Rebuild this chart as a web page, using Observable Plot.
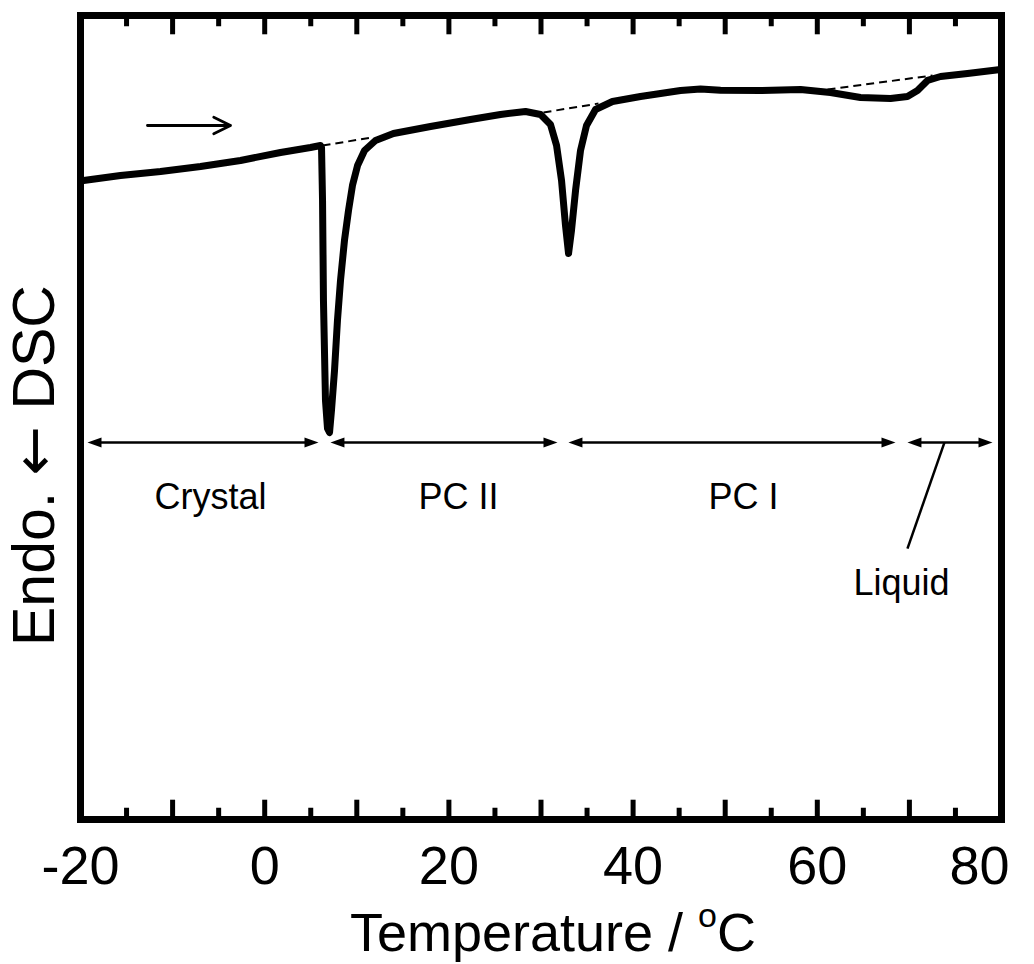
<!DOCTYPE html>
<html>
<head>
<meta charset="utf-8">
<script src="https://cdn.jsdelivr.net/npm/d3@7"></script>
<script src="https://cdn.jsdelivr.net/npm/@observablehq/plot@0.6"></script>
<style>
  html, body { margin: 0; padding: 0; background: #fff; }
</style>
</head>
<body>
<div id="chart"></div>
<script>
// ---- Data ----
// DSC trace: temperature (°C) and signal (arbitrary units, 0–100 over the frame)
const temperature = [
  -19.67, -15.66, -11.31, -6.97, -2.63, 1.72, 4.97, 6.06,
  6.17, 6.28, 6.38, 6.60, 6.82, 7.04, 7.25, 7.58, 7.90, 8.23, 8.66, 9.10, 9.53, 10.08, 10.84, 12.03,
  13.98, 18.00, 22.34, 25.60, 28.32,
  29.95, 31.03, 31.69, 32.23, 32.66, 32.99, 33.31, 33.75, 34.29, 34.94, 35.92, 37.76,
  40.80, 45.15, 47.32, 49.49, 53.83, 58.18, 61.43, 64.69, 67.95, 69.79, 70.88, 71.97, 73.38, 76.31, 79.89
];
const signal = [
  79.48, 80.10, 80.60, 81.22, 81.97, 82.96, 83.58, 83.83,
  83.58, 76.99, 64.55, 52.11, 48.63, 48.13, 50.87, 55.85, 62.06, 67.04, 72.01, 75.75, 78.86, 81.34, 83.21, 84.45,
  85.32, 86.19, 87.06, 87.69, 88.06,
  87.69, 86.44, 83.83, 79.48, 73.88, 70.40, 73.26, 78.23, 83.21, 86.32, 88.31, 89.30,
  89.93, 90.67, 90.85, 90.70, 90.67, 90.80, 90.42, 89.80, 89.68, 89.93, 90.67, 91.92, 92.41, 92.79, 93.28
];

// Dashed baselines across the transitions
const baseT1 = [6.28, 30.27, 61.11];
const baseV1 = [83.83, 87.94, 90.80];
const baseT2 = [11.71, 36.24, 72.51];
const baseV2 = [84.83, 89.05, 92.54];

// Phase ranges (double arrows) and labels
const phaseNames = ["Crystal", "PC II", "PC I", "Liquid"];
const phaseStart = [-19.24, 7.14, 32.98, 69.79];
const phaseEnd = [5.84, 31.79, 68.49, 79.02];
const phaseArrowLevel = 46.9;
const labelT = [-5.88, 21.04, 51.99, 69.14];
const labelV = [40.1, 40.1, 40.1, 29.3];

// Pointer from the "Liquid" label to its arrow
const pointerT = [73.81, 69.79];
const pointerV = [46.9, 33.7];

// Heating-direction arrow
const heatArrowT = [-12.73, -3.71];
const heatArrowV = 86.32;

// Axis ticks
const xTickLabels = [-20, 0, 20, 40, 60, 80];
const majorTicks = [-10, 0, 10, 20, 30, 40, 50, 60, 70];
const minorTicks = [-15, -5, 5, 15, 25, 35, 45, 55, 65, 75];

// ---- Build tables ----
const trace = temperature.map((t, i) => ({t, v: signal[i]}));
const baselines = baseT1.map((t, i) => ({x1: t, y1: baseV1[i], x2: baseT2[i], y2: baseV2[i]}));
const phases = phaseNames.map((name, i) => ({name, start: phaseStart[i], end: phaseEnd[i], lt: labelT[i], lv: labelV[i]}));

const headRight = {draw(ctx) { ctx.moveTo(0, 0); ctx.lineTo(-14, -5); ctx.lineTo(-14, 5); ctx.closePath(); }};
const headLeft = {draw(ctx) { ctx.moveTo(0, 0); ctx.lineTo(14, -5); ctx.lineTo(14, 5); ctx.closePath(); }};

const font = "'Liberation Sans', Arial, Helvetica, sans-serif";
const fmt = d => (d < 0 ? "-" + Math.abs(d) : String(d));

const svg = Plot.plot({
  width: 1034,
  height: 964,
  marginLeft: 80,
  marginRight: 33,
  marginTop: 15,
  marginBottom: 145,
  x: {domain: [-20, 80], axis: null},
  y: {domain: [0, 100], axis: null},
  style: {fontFamily: font, background: "white", color: "black"},
  marks: [
    // ticks inside the frame (bottom and top)
    Plot.ruleX(majorTicks, {x: d => d, y1: 0, y2: 2.4, stroke: "black", strokeWidth: 5}),
    Plot.ruleX(minorTicks, {x: d => d, y1: 0, y2: 1.4, stroke: "black", strokeWidth: 5}),
    Plot.ruleX(majorTicks, {x: d => d, y1: 100, y2: 97.6, stroke: "black", strokeWidth: 5}),
    Plot.ruleX(minorTicks, {x: d => d, y1: 100, y2: 98.6, stroke: "black", strokeWidth: 5}),
    // tick labels
    Plot.text(xTickLabels.filter(d => d !== 80), {x: d => d, text: fmt, frameAnchor: "bottom", lineAnchor: "top", dy: 26, fontSize: 54, fill: "black"}),
    Plot.text(xTickLabels.filter(d => d === 80), {x: d => d, text: fmt, frameAnchor: "bottom", lineAnchor: "top", dy: 26, dx: -22, fontSize: 54, fill: "black"}),
    // axis titles
    Plot.text(["Temperature / oC"], {text: d => d, frameAnchor: "bottom", textAnchor: "middle", lineAnchor: "top", dy: 93, dx: 12, fontSize: 54, fill: "black"}),
    Plot.text(["Endo. \u2190 DSC"], {text: d => d, frameAnchor: "left", textAnchor: "middle", lineAnchor: "top", rotate: -90, dx: -68, dy: 48, fontSize: 59, fill: "black"}),
    // dashed baselines
    Plot.link(baselines, {x1: "x1", y1: "y1", x2: "x2", y2: "y2", stroke: "black", strokeWidth: 2, strokeDasharray: "8,5"}),
    // phase arrows
    Plot.ruleY(phases, {y: () => phaseArrowLevel, x1: "start", x2: "end", insetLeft: 6, insetRight: 6, stroke: "black", strokeWidth: 2.5}),
    Plot.dot(phases, {x: "end", y: () => phaseArrowLevel, symbol: headRight, r: 5, fill: "black", stroke: null}),
    Plot.dot(phases, {x: "start", y: () => phaseArrowLevel, symbol: headLeft, r: 5, fill: "black", stroke: null}),
    Plot.link([0], {x1: () => pointerT[0], y1: () => pointerV[0], x2: () => pointerT[1], y2: () => pointerV[1], stroke: "black", strokeWidth: 2.5}),
    Plot.text(phases, {x: "lt", y: "lv", text: "name", fontSize: 36, fill: "black", lineAnchor: "middle"}),
    // heating direction arrow
    Plot.arrow([0], {x1: () => heatArrowT[0], x2: () => heatArrowT[1], y1: () => heatArrowV, y2: () => heatArrowV, stroke: "black", strokeWidth: 2.8, headLength: 10, headAngle: 52}),
    // DSC trace
    Plot.line(trace, {x: "t", y: "v", stroke: "black", strokeWidth: 7, strokeLinejoin: "round", strokeLinecap: "round"}),
    Plot.frame({stroke: "black", strokeWidth: 7})
  ]
});

const ns = "http://www.w3.org/2000/svg";
function span(text, attrs) {
  const s = document.createElementNS(ns, "tspan");
  s.textContent = text;
  for (const k in attrs) s.setAttribute(k, attrs[k]);
  return s;
}
svg.querySelectorAll("text").forEach(t => {
  if (t.textContent === "Temperature / oC") {
    // superscript "o" in the x-axis title
    t.textContent = "";
    t.style.whiteSpace = "pre";
    t.append(span("Temperature / ", {}), span("o", {"font-size": 34, dy: -24}), span("C", {"font-size": 54, dy: 24}));
  } else if (t.textContent === "Endo. \u2190 DSC") {
    // a long arrow glyph, as in the reference
    t.textContent = "";
    t.style.whiteSpace = "pre";
    t.append(span("Endo. ", {}), span("\u2190", {"font-family": "DejaVu Sans"}), span(" DSC", {}));
  }
});

document.getElementById("chart").append(svg);
</script>
</body>
</html>
